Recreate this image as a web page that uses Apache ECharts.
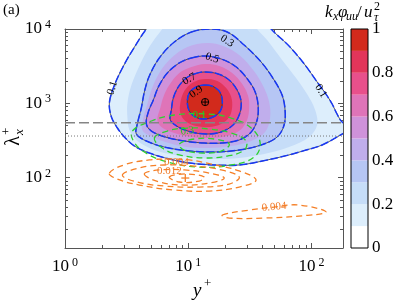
<!DOCTYPE html>
<html>
<head>
<meta charset="utf-8">
<script src="https://cdn.jsdelivr.net/npm/echarts@6.0.0/dist/echarts.min.js"></script>
<style>
html,body{margin:0;padding:0;background:#fff;}
#chart{width:399px;height:301px;}
</style>
</head>
<body>
<div id="chart"></div>
<script>
// ---------- axes ----------
const yPlusMin = 1, yPlusMax = 180;
const lambdaMin = 11.3, lambdaMax = 10000;
const xMajorTicks = [1, 10, 100];
const xMinorTicks = [2,3,4,5,6,7,8,9,20,30,40,50,60,70,80,90];
const yMajorTicks = [100, 1000, 10000];
const yMinorTicks = [20,30,40,50,60,70,80,90,200,300,400,500,600,700,800,900,2000,3000,4000,5000,6000,7000,8000,9000];
const colorbarTicks = [0, 0.2, 0.4, 0.6, 0.8, 1];
const bandEdges = [0,0.1,0.2,0.3,0.4,0.5,0.6,0.7,0.8,0.9,1];
const bandColors = ['#ffffff','#ddeefc','#c6ddf8','#b6c6f4','#c0aeec','#cf92da','#df74b8','#e8508b','#e2355a','#d22a1c'];

// ---------- filled contours of k_x phi_uu / u_tau^2 : [y+, lambda_x+] ----------
const levels = [0.1,0.2,0.3,0.4,0.5,0.6,0.7,0.8,0.9];
const c01 = [[5.82,15400],[4.57,10000],[3.66,5720],[2.98,3180],[2.52,1760],[2.29,1010],[2.38,654],[2.66,465],[3.03,352],[3.66,266],[4.83,214],[7.02,178],[10.2,157],[16.2,148],[25.9,148],[39.8,167],[65.7,202],[90.3,235],[122,275],[177,386],[209,465],[177,560],[161,718],[147,979],[131,1330],[111,1940],[88.6,3280],[65.7,5900],[47.0,10000],[39.0,15400]];
const c02 = [[7.70,15400],[6.16,10000],[4.83,5720],[4.01,3180],[3.46,1760],[3.21,1010],[3.21,634],[3.33,437],[3.72,331],[4.66,258],[6.39,214],[10.2,189],[16.2,178],[25.9,184],[41.3,208],[65.7,258],[95.5,352],[111,511],[107,813],[92.0,1330],[74.9,2190],[57.7,3830],[43.6,7110],[36.2,10000],[31.2,15400]];
const c03 = [[10.6,9110],[14.8,10000],[20.7,9110],[28.4,6090],[39.0,3600],[49.7,2060],[57.7,1290],[61.0,813],[59.9,511],[52.6,352],[39.0,275],[25.9,235],[16.2,221],[10.2,228],[6.39,258],[4.57,311],[3.79,386],[3.86,527],[4.16,865],[4.40,1420],[4.83,2330],[5.82,4070],[7.70,6680]];
const c04 = [[9.82,5720],[14.3,6480],[19.2,5900],[25.9,4470],[33.6,2810],[40.5,1710],[45.3,1040],[46.1,634],[42.0,411],[32.4,311],[22.3,266],[14.8,250],[9.63,258],[6.51,301],[4.92,363],[4.24,437],[4.32,634],[4.66,979],[5.02,1510],[5.82,2560],[7.29,4070]];
const c05 = [[10.6,4070],[13.7,4330],[18.5,3950],[24.5,3080],[30.6,2060],[34.9,1420],[36.9,920],[36.2,596],[32.4,411],[25.9,321],[18.5,292],[13.5,292],[9.28,311],[6.51,352],[5.02,424],[4.57,527],[4.74,764],[5.21,1110],[5.72,1660],[6.76,2560],[8.46,3490]];
const c06 = [[10.6,3080],[13.7,3380],[17.8,3180],[22.7,2560],[27.4,1820],[30.6,1250],[31.2,865],[30.0,596],[26.4,437],[20.7,363],[14.8,341],[10.6,352],[7.70,398],[6.05,480],[5.61,596],[5.93,865],[6.28,1220],[7.02,1760],[8.46,2560]];
const c07 = [[11.2,2480],[13.5,2640],[17.5,2480],[21.9,2000],[25.4,1420],[26.9,1010],[25.9,696],[23.1,511],[18.5,411],[14.0,386],[10.6,411],[8.30,480],[7.15,596],[7.29,813],[7.56,1180],[8.30,1660],[9.63,2190]];
const c08 = [[11.6,2000],[13.7,2120],[17.2,2000],[20.3,1610],[22.3,1220],[22.7,892],[21.5,654],[18.5,527],[14.8,480],[11.6,495],[9.46,578],[8.62,741],[8.62,1010],[9.11,1380],[10.2,1760]];
const c09 = [[13.7,1760],[16.2,1660],[18.2,1380],[18.9,1040],[18.2,788],[15.9,654],[13.5,615],[11.4,654],[10.2,788],[9.82,1040],[10.2,1380],[11.6,1660]];
const filledContours = [c01,c02,c03,c04,c05,c06,c07,c08,c09];
const lineContours = [c01,c03,c05,c07,c09]; // levels 0.1 0.3 0.5 0.7 0.9

// ---------- green dashed contours ----------
const g1 = [[3.52,424],[5.02,578],[7.70,696],[14.3,718],[22.3,634],[32.4,465],[38.3,292],[34.2,189],[22.3,148],[11.8,139],[6.39,167],[4.40,221],[3.59,311]];
const g2 = [[5.31,341],[6.76,424],[9.82,465],[14.8,451],[22.3,398],[29.5,311],[28.4,235],[20.7,195],[13.5,184],[8.46,202],[6.16,250]];
const g3 = [[8.46,283],[11.2,331],[16.2,331],[21.5,283],[18.5,228],[13.0,214],[9.28,235]];
const greenContours = [g1,g2,g3];

// ---------- orange dashed contours ----------
const o1 = [[2.29,115],[3.15,152],[4.83,173],[6.64,178],[10.2,173],[15.4,152],[25.9,123],[35.5,92.8],[25.9,74.7],[14.8,66.0],[7.70,68.1],[4.01,79.5],[2.66,95.8]];
const o2 = [[2.92,108],[4.01,135],[6.39,148],[11.2,143],[18.5,127],[25.9,102],[21.5,82.0],[12.3,74.7],[6.39,77.1],[3.86,87.3]];
const o3 = [[4.40,112],[5.82,127],[9.28,127],[14.8,115],[19.6,98.8],[14.8,84.6],[9.28,79.5],[5.82,87.3]];
const o4 = [[7.02,102],[9.46,112],[13.5,102],[12.3,90.0],[8.46,87.3]];
const o5 = [[18.9,31.4],[31.2,36.6],[49.7,40.2],[79.2,42.8],[131,34.4],[79.2,30.4],[41.3,28.6],[21.5,28.6]];
const orangeContours = [o1,o2,o3,o4,o5];

// ---------- reference lines & markers ----------
const dashedLambda = 548;
const dottedLambda = 363;
const peakMarker = [13.7, 1040];
const orangeMarker = [9.46, 98.8];

// ---------- contour labels: [text, y+, lambda+, rotation deg, colour] ----------
const contourLabels = [
  ['0.1', 2.42, 1610, 72, '#000'],
  ['0.1', 119, 1460, -58, '#000'],
  ['0.3', 20.7, 6890, -32, '#000'],
  ['0.5', 15.6, 4070, -18, '#000'],
  ['0.7', 10.2, 2120, 30, '#000'],
  ['0.9', 11.6, 1420, 35, '#000'],
  ['0.1', 12.3, 696, 0, '#22cc22'],
  ['0.3', 9.82, 424, 8, '#22cc22'],
  ['0.004', 8.0, 162, 0, '#f07a28'],
  ['0.012', 7.02, 123, 0, '#f07a28'],
  ['0.004', 49.7, 40.2, 5, '#f07a28']
];

const L = Math.log10;
const T = p => [L(p[0]), L(p[1])];
const SERIF = '"Liberation Serif", "DejaVu Serif", serif';
const AX = '#555';

function polySeries(sets, styleOf, z, smooth) {
  return {
    type: 'custom', xAxisIndex: 0, yAxisIndex: 0, clip: true, z: z, silent: true,
    data: sets.map(() => [1, 3]),
    renderItem: (params, api) => ({
      type: 'polygon',
      shape: { points: sets[params.dataIndex].map(p => api.coord(T(p))), smooth: smooth },
      style: styleOf(params.dataIndex)
    })
  };
}

const rich = {
  b: { fontFamily: SERIF, fontSize: 17, color: '#000', lineHeight: 20 },
  s: { fontFamily: SERIF, fontSize: 12, color: '#000', verticalAlign: 'top', lineHeight: 12, padding: [0,0,0,3] }
};
const powFmt = v => '{b|10}{s|' + Math.round(v) + '}';

const grid0 = { left: 65, top: 29, width: 278, height: 219 };
function xAx(grid, pos, ticks, len, labels, line) {
  return {
    gridIndex: grid, type: 'value', min: L(yPlusMin), max: L(yPlusMax), position: pos,
    axisLine: { show: line, onZero: false, lineStyle: { color: AX, width: 1 } },
    axisTick: { show: true, inside: true, length: len, customValues: ticks.map(L), lineStyle: { color: AX, width: 1 } },
    axisLabel: labels ? { show: true, customValues: ticks.map(L), formatter: powFmt, rich: rich, margin: 9 } : { show: false },
    splitLine: { show: false }
  };
}
function yAx(grid, pos, ticks, len, labels, line) {
  return {
    gridIndex: grid, type: 'value', min: L(lambdaMin), max: L(lambdaMax), position: pos,
    axisLine: { show: line, onZero: false, lineStyle: { color: AX, width: 1 } },
    axisTick: { show: true, inside: true, length: len, customValues: ticks.map(L), lineStyle: { color: AX, width: 1 } },
    axisLabel: labels ? { show: true, customValues: ticks.map(L), formatter: powFmt, rich: rich, margin: 14 } : { show: false },
    splitLine: { show: false }
  };
}

const option = {
  animation: false,
  backgroundColor: '#fff',
  grid: [
    Object.assign({}, grid0),
    Object.assign({}, grid0),
    { left: 351, top: 29, width: 17, height: 219 }
  ],
  xAxis: [
    xAx(0, 'bottom', xMajorTicks, 5, true, true),
    xAx(0, 'top', xMajorTicks, 5, false, true),
    xAx(1, 'bottom', xMinorTicks, 3, false, false),
    xAx(1, 'top', xMinorTicks, 3, false, false),
    { gridIndex: 2, type: 'value', min: 0, max: 1, show: false }
  ],
  yAxis: [
    yAx(0, 'left', yMajorTicks, 5, true, true),
    yAx(0, 'right', yMajorTicks, 5, false, true),
    yAx(1, 'left', yMinorTicks, 3, false, false),
    yAx(1, 'right', yMinorTicks, 3, false, false),
    {
      gridIndex: 2, type: 'value', min: 0, max: 1, position: 'right',
      axisLine: { show: false }, axisTick: { show: false }, splitLine: { show: false },
      axisLabel: { customValues: colorbarTicks, margin: 4, fontFamily: SERIF, fontSize: 17, color: '#000',
        formatter: v => (v === 0 || v === 1) ? String(v) : v.toFixed(1) }
    }
  ],
  series: [
    polySeries(filledContours, i => ({ fill: bandColors[i + 1], stroke: null }), 1, 0.35),
    polySeries(lineContours, () => ({ fill: 'none', stroke: '#333', lineWidth: 0.8 }), 2, 0.35),
    polySeries(lineContours, () => ({ fill: 'none', stroke: '#1838f5', lineWidth: 1.5, lineDash: [8, 2.5] }), 3, 0.35),
    polySeries(greenContours, () => ({ fill: 'none', stroke: '#2ed22e', lineWidth: 1.3, lineDash: [6, 4] }), 4, 0.4),
    polySeries(orangeContours, () => ({ fill: 'none', stroke: '#f58028', lineWidth: 1.3, lineDash: [6, 4] }), 4, 0.4),
    { type: 'line', xAxisIndex: 0, yAxisIndex: 0, z: 5, silent: true, symbol: 'none',
      data: [[L(yPlusMin), L(dashedLambda)], [L(yPlusMax), L(dashedLambda)]],
      lineStyle: { color: '#858585', width: 1.5, type: [10, 4] } },
    { type: 'line', xAxisIndex: 0, yAxisIndex: 0, z: 5, silent: true, symbol: 'none',
      data: [[L(yPlusMin), L(dottedLambda)], [L(yPlusMax), L(dottedLambda)]],
      lineStyle: { color: '#777', width: 1, type: [1, 2] } },
    { type: 'custom', xAxisIndex: 0, yAxisIndex: 0, z: 6, silent: true, clip: true,
      data: [T(peakMarker), T(orangeMarker)],
      renderItem: (params, api) => {
        const c = api.coord([api.value(0), api.value(1)]);
        if (params.dataIndex === 0) {
          const r = 3.6;
          return { type: 'group', children: [
            { type: 'circle', shape: { cx: c[0], cy: c[1], r: r }, style: { fill: 'none', stroke: '#000', lineWidth: 1 } },
            { type: 'line', shape: { x1: c[0] - r, y1: c[1], x2: c[0] + r, y2: c[1] }, style: { stroke: '#000', lineWidth: 1 } },
            { type: 'line', shape: { x1: c[0], y1: c[1] - r, x2: c[0], y2: c[1] + r }, style: { stroke: '#000', lineWidth: 1 } }
          ]};
        }
        const h = 4;
        return { type: 'group', children: [
          { type: 'line', shape: { x1: c[0] - h, y1: c[1], x2: c[0] + h, y2: c[1] }, style: { stroke: '#f58028', lineWidth: 1.3 } },
          { type: 'line', shape: { x1: c[0], y1: c[1] - h, x2: c[0], y2: c[1] + h }, style: { stroke: '#f58028', lineWidth: 1.3 } }
        ]};
      } },
    { type: 'custom', xAxisIndex: 0, yAxisIndex: 0, z: 7, silent: true, clip: true,
      data: contourLabels.map(d => [L(d[1]), L(d[2])]),
      renderItem: (params, api) => {
        const d = contourLabels[params.dataIndex];
        const c = api.coord([api.value(0), api.value(1)]);
        return { type: 'text', x: c[0], y: c[1], rotation: d[3] * Math.PI / 180,
          style: { text: d[0], fill: d[4], font: '11px ' + SERIF, align: 'center', verticalAlign: 'middle' } };
      } },
    { type: 'custom', xAxisIndex: 4, yAxisIndex: 4, z: 2, silent: true,
      data: bandColors.map((c, i) => [0.5, (bandEdges[i] + bandEdges[i + 1]) / 2]),
      renderItem: (params, api) => {
        const i = params.dataIndex;
        const p0 = api.coord([0, bandEdges[i]]);
        const p1 = api.coord([1, bandEdges[i + 1]]);
        return { type: 'rect', shape: { x: p0[0], y: p1[1], width: p1[0] - p0[0], height: p0[1] - p1[1] },
          style: { fill: bandColors[i], stroke: null } };
      } },
    { type: 'custom', xAxisIndex: 4, yAxisIndex: 4, z: 3, silent: true,
      data: [[0.5, 0.5]],
      renderItem: (params, api) => {
        const p0 = api.coord([0, 0]);
        const p1 = api.coord([1, 1]);
        return { type: 'rect', shape: { x: p0[0], y: p1[1], width: p1[0] - p0[0], height: p0[1] - p1[1] },
          style: { fill: 'none', stroke: '#000', lineWidth: 1 } };
      } }
  ],
  graphic: [
    { type: 'text', x: 3, y: 3, style: { text: '(a)', font: '15px ' + SERIF, fill: '#000' } },
    { type: 'text', x: 193, y: 291, style: { text: 'y', font: 'italic 19px ' + SERIF, fill: '#000', verticalAlign: 'middle' } },
    { type: 'text', x: 204, y: 284, style: { text: '+', font: '13px ' + SERIF, fill: '#000', verticalAlign: 'middle' } },
    { type: 'group', x: 14, y: 141, rotation: Math.PI / 2, children: [
      { type: 'text', x: 0, y: 0, style: { text: 'λ', font: '20px ' + SERIF, fill: '#000', align: 'center', verticalAlign: 'middle' } },
      { type: 'text', x: 6, y: -7, style: { text: '+', font: '13px ' + SERIF, fill: '#000', verticalAlign: 'middle' } },
      { type: 'text', x: 6, y: 6, style: { text: 'x', font: 'italic 13px ' + SERIF, fill: '#000', verticalAlign: 'middle' } }
    ]},
    { type: 'text', x: 325, y: 13, style: { text: 'k', font: 'italic 17px ' + SERIF, fill: '#000', verticalAlign: 'middle' } },
    { type: 'text', x: 333, y: 17, style: { text: 'x', font: 'italic 12px ' + SERIF, fill: '#000', verticalAlign: 'middle' } },
    { type: 'text', x: 338, y: 13, style: { text: 'φ', font: 'italic 17px ' + SERIF, fill: '#000', verticalAlign: 'middle' } },
    { type: 'text', x: 346, y: 17, style: { text: 'uu', font: 'italic 12px ' + SERIF, fill: '#000', verticalAlign: 'middle' } },
    { type: 'text', x: 357, y: 13, style: { text: '/', font: '17px ' + SERIF, fill: '#000', verticalAlign: 'middle' } },
    { type: 'text', x: 364, y: 13, style: { text: 'u', font: 'italic 17px ' + SERIF, fill: '#000', verticalAlign: 'middle' } },
    { type: 'text', x: 374, y: 7, style: { text: '2', font: '12px ' + SERIF, fill: '#000', verticalAlign: 'middle' } },
    { type: 'text', x: 374, y: 18, style: { text: 'τ', font: 'italic 12px ' + SERIF, fill: '#000', verticalAlign: 'middle' } }
  ]
};

const chart = echarts.init(document.getElementById('chart'), null, { renderer: 'canvas' });
chart.setOption(option);
</script>
</body>
</html>
